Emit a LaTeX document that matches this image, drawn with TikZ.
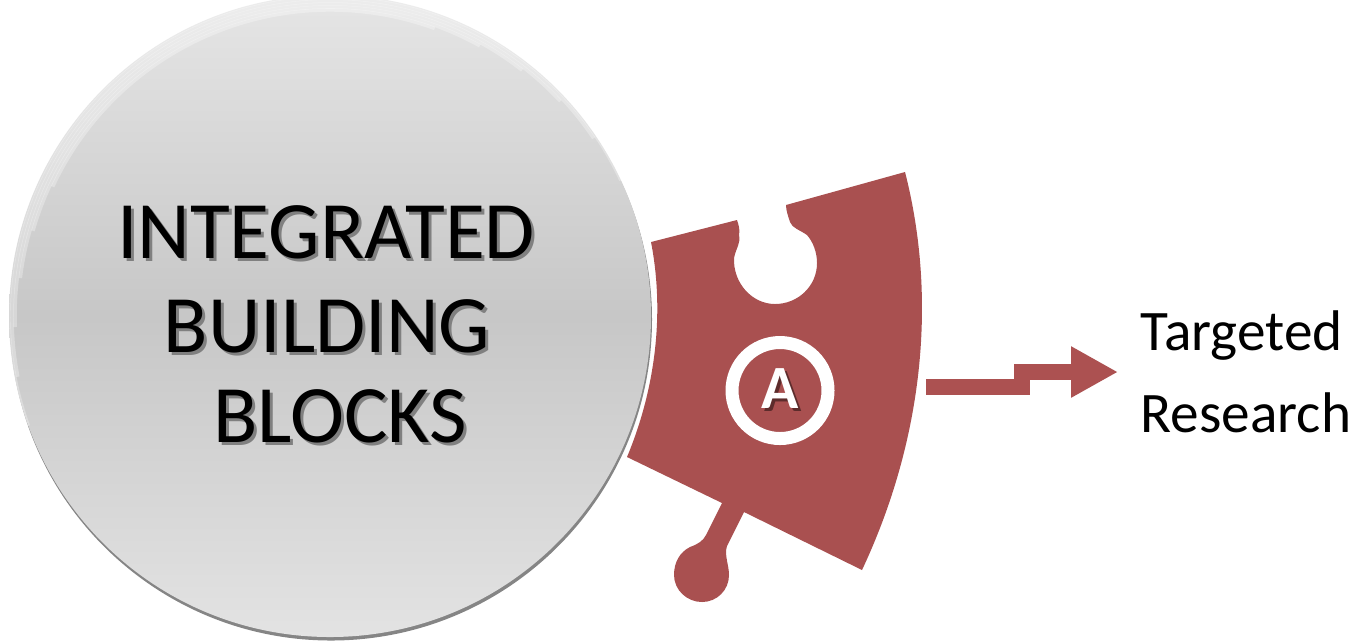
\documentclass[tikz,border=0pt]{standalone}
\usepackage{fontspec}
\setmainfont{Carlito}
\usepackage{tikz}
\usetikzlibrary{arrows.meta, positioning}
\definecolor{piecered}{HTML}{A95050}
\definecolor{flowred}{HTML}{AC5151}
\colorlet{titleshade}{black!50}
\colorlet{markshade}{piecered!55!black}
\newcommand{\softcopy}[3]{\makebox[0pt][l]{\hspace{#1}\raisebox{-#1}{\textcolor{#2}{#3}}}#3}

\begin{document}
\begin{tikzpicture}[
      x=0.1mm, y=-0.1mm,
      disc/.style   = {circle, minimum size=6.42cm, inner sep=0pt,
                       top color=black!10, bottom color=black!11, middle color=black!22},
      rim/.style    = {circle, minimum size=6.42cm, inner sep=0pt, fill=black!48},
      title/.style  = {anchor=base, inner sep=0pt, font=\fontsize{23.2}{24}\selectfont},
      ring/.style   = {circle, draw=white, line width=1.3mm, minimum size=9.6mm,
                       inner sep=0pt, text=white, font=\fontsize{17.5}{18}\selectfont\bfseries},
      flow/.style   = {draw=flowred, line width=1.57mm,
                       -{Triangle[length=4.7mm, width=4.8mm]}},
      goal/.style   = {anchor=west, inner sep=2.2mm, align=left,
                       font=\fontsize{16.3}{23.2}\selectfont}
    ]
    \useasboundingbox (0,0) rectangle (1359,642);

    % puzzle piece
    \fill[piecered] (651,242) -- (737,220)
      .. controls (739,226) and (740,230) .. (739,235)
      .. controls (741,243) and (736,248) .. (734,258)
      .. controls (733,283) and (752,304) .. (775,304)
      .. controls (798,304) and (817,286) .. (817,263)
      .. controls (817,252) and (813,242) .. (807,235)
      .. controls (800,230) and (792,228) .. (790,222)
      .. controls (788,216) and (786,210) .. (786,205)
      -- (905,172)
      .. controls (939,305) and (920.5,445.5) .. (862,570)
      -- (744,512) -- (727,546)
      .. controls (724,555) and (729,565) .. (729,575)
      .. controls (729,590) and (717,602) .. (702,602)
      .. controls (687,602) and (674,590) .. (674,575)
      .. controls (674,562) and (680,552) .. (690,547)
      .. controls (698,544) and (703,541) .. (706,535)
      -- (722,503) -- (627,457)
      .. controls (655,390) and (665,314) .. (651,242) -- cycle;

    \node[rim]  (edge)   at (331,319.5) {};
    \node[disc] (blocks) at (330,316) {};

    % soft upper edge
    \foreach \i in {0,...,5}
      \draw[white, opacity=0.3, line width=0.35mm]
        ([shift={(25+9*\i:3.21cm-\i*0.3mm)}]blocks.center)
        arc[start angle=25+9*\i, end angle=200-9*\i, radius=3.21cm-\i*0.3mm];

    \node[title] (line1) at (326,258) {\softcopy{0.3mm}{titleshade}{INTEGRATED}};
    \node[title] (line2) at (327,352) {\softcopy{0.3mm}{titleshade}{BUILDING}};
    \node[title] (line3) at (340,442) {\softcopy{0.3mm}{titleshade}{BLOCKS}};

    \node[ring] (mark) at (780,390.5) {\raisebox{0.2mm}{\softcopy{0.3mm}{markshade}{A}}};

    \coordinate (stub) at (926,387);
    \coordinate (kink) at (1022,372);
    \node[goal] (target) at (1118,372) {Targeted\\Research};

    \draw[flow] (stub) -| (kink) -- (target.west);
  \end{tikzpicture}
\end{document}
